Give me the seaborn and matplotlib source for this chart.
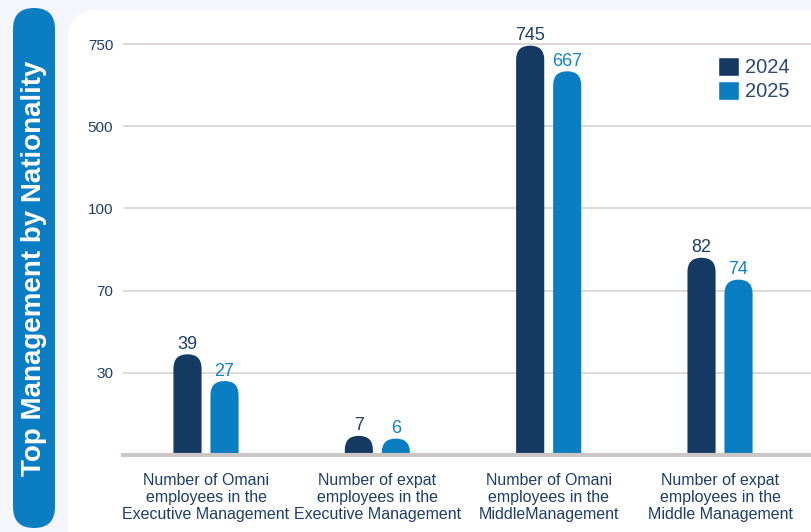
import numpy as np
import pandas as pd
import matplotlib
matplotlib.use("Agg")
import matplotlib.pyplot as plt
import seaborn as sns
from matplotlib.patches import FancyBboxPatch
from matplotlib.transforms import IdentityTransform
from matplotlib import font_manager

# ---------------- data ----------------
categories = [
    "Number of Omani\nemployees in the\nExecutive Management",
    "Number of expat\nemployees in the\nExecutive Management",
    "Number of Omani\nemployees in the\nMiddleManagement",
    "Number of expat\nemployees in the\nMiddle Management",
]
years = ["2024", "2025"]
values_2024 = [39, 7, 745, 82]
values_2025 = [27, 6, 667, 74]
y_ticks = [30, 70, 100, 500, 750]
title = "Top Management by Nationality"

# ---------------- styles ----------------
C2024 = "#143a63"
C2025 = "#0a7ec2"
PILL = "#0b7dc2"
TXT = "#1f3e66"
GRID = "#d6d0d0"
BASE = "#ccc6c6"
BG = "#f5f6fc"

sns.set_theme(style="white")
names = {f.name for f in font_manager.fontManager.ttflist}
narrow = "Liberation Sans Narrow" if "Liberation Sans Narrow" in names else "Liberation Sans"
plt.rcParams["font.family"] = ["Liberation Sans", "DejaVu Sans"]

df = pd.DataFrame({
    "category": categories * 2,
    "year": [years[0]] * 4 + [years[1]] * 4,
    "value": values_2024 + values_2025,
})

W, H = 811, 532
fig = plt.figure(figsize=(W / 100, H / 100), dpi=100)
fig.patch.set_facecolor(BG)

# white panel with rounded top-left corner
panel = FancyBboxPatch((68, -60), 900, (H - 10) + 60, boxstyle="round,pad=0,rounding_size=30",
                       transform=IdentityTransform(), facecolor="white", edgecolor="none", zorder=-5)
fig.patches.append(panel)
panel.set_figure(fig)

# blue pill with vertical title
pill = FancyBboxPatch((13, H - 528), 42, 520, boxstyle="round,pad=0,rounding_size=21",
                      transform=IdentityTransform(), facecolor=PILL, edgecolor="none", zorder=-4)
fig.patches.append(pill)
pill.set_figure(fig)
fig.text(34 / W, 1 - 268 / H, title, rotation=90, ha="center", va="center",
         color="white", fontsize=20, fontweight="bold")

# axes
ax_left, ax_right, ax_bottom, ax_top = 123, 811, 455, 20
ax = fig.add_axes([ax_left / W, 1 - ax_bottom / H, (ax_right - ax_left) / W, (ax_bottom - ax_top) / H])
ax.set_facecolor("none")

anch_v = [-30, 0, 30, 70, 100, 500, 750, 1000]
anch_p = [-1, 0, 1, 2, 3, 4, 5, 6]
def fwd(v):
    return np.interp(v, anch_v, anch_p)
def inv(p):
    return np.interp(p, anch_p, anch_v)

sns.barplot(data=df, x="category", y="value", hue="year", palette=[C2024, C2025],
            width=0.432, gap=0.24, saturation=1, errorbar=None, ax=ax)
ax.set_yscale("function", functions=(fwd, inv))
ax.set_ylim(0, 823)
ax.set_xlim(-0.4845, 3.531)

ax.set_yticks(y_ticks)
ax.set_yticklabels([str(t) for t in y_ticks], fontfamily=narrow, fontsize=11, color=TXT)
ax.tick_params(axis="y", length=0, pad=7)
ax.tick_params(axis="x", length=0, pad=13)
for lab in ax.get_xticklabels():
    lab.set_fontsize(11.5)
    lab.set_color(TXT)
    lab.set_linespacing(1.18)
ax.set_xlabel("")
ax.set_ylabel("")
ax.yaxis.grid(True, color=GRID, linewidth=1.1)
ax.set_axisbelow(True)
for s in ["left", "right", "top"]:
    ax.spines[s].set_visible(False)
ax.spines["bottom"].set_color(BASE)
ax.spines["bottom"].set_linewidth(3)
ax.spines["bottom"].set_zorder(5)

# value labels
label_colors = [TXT, "#1483c6"]
for cont, col in zip(ax.containers, label_colors):
    ax.bar_label(cont, labels=[str(int(v)) for v in cont.datavalues], padding=1,
                 fontsize=13, color=col)

# legend
handles, labels = ax.get_legend_handles_labels()
ax.legend(handles, labels, loc="upper left", bbox_to_anchor=(718 / W, 1 - 57 / H),
          bbox_transform=fig.transFigure, frameon=False, borderpad=0, borderaxespad=0,
          fontsize=14.5, handlelength=1.05, handleheight=1.05, handletextpad=0.3,
          labelspacing=0.2, labelcolor="#2c4a70")

# rounded bar tops (drawn in display space so caps stay circular)
fig.canvas.draw()
for cont in ax.containers:
    for rect in cont:
        x0, x1 = rect.get_x(), rect.get_x() + rect.get_width()
        h = rect.get_height()
        (dx0, dy0) = ax.transData.transform((x0, 0))
        (dx1, dy1) = ax.transData.transform((x1, h))
        w = dx1 - dx0
        r = w / 2
        rb = FancyBboxPatch((dx0, dy0 - r), w, (dy1 - dy0) + r,
                            boxstyle=f"round,pad=0,rounding_size={r}",
                            transform=IdentityTransform(), facecolor=rect.get_facecolor(),
                            edgecolor="none", zorder=2)
        rb.set_clip_box(ax.bbox)
        ax.add_artist(rb)
        rect.set_visible(False)

fig.savefig("out.png", dpi=100, facecolor=fig.get_facecolor())
